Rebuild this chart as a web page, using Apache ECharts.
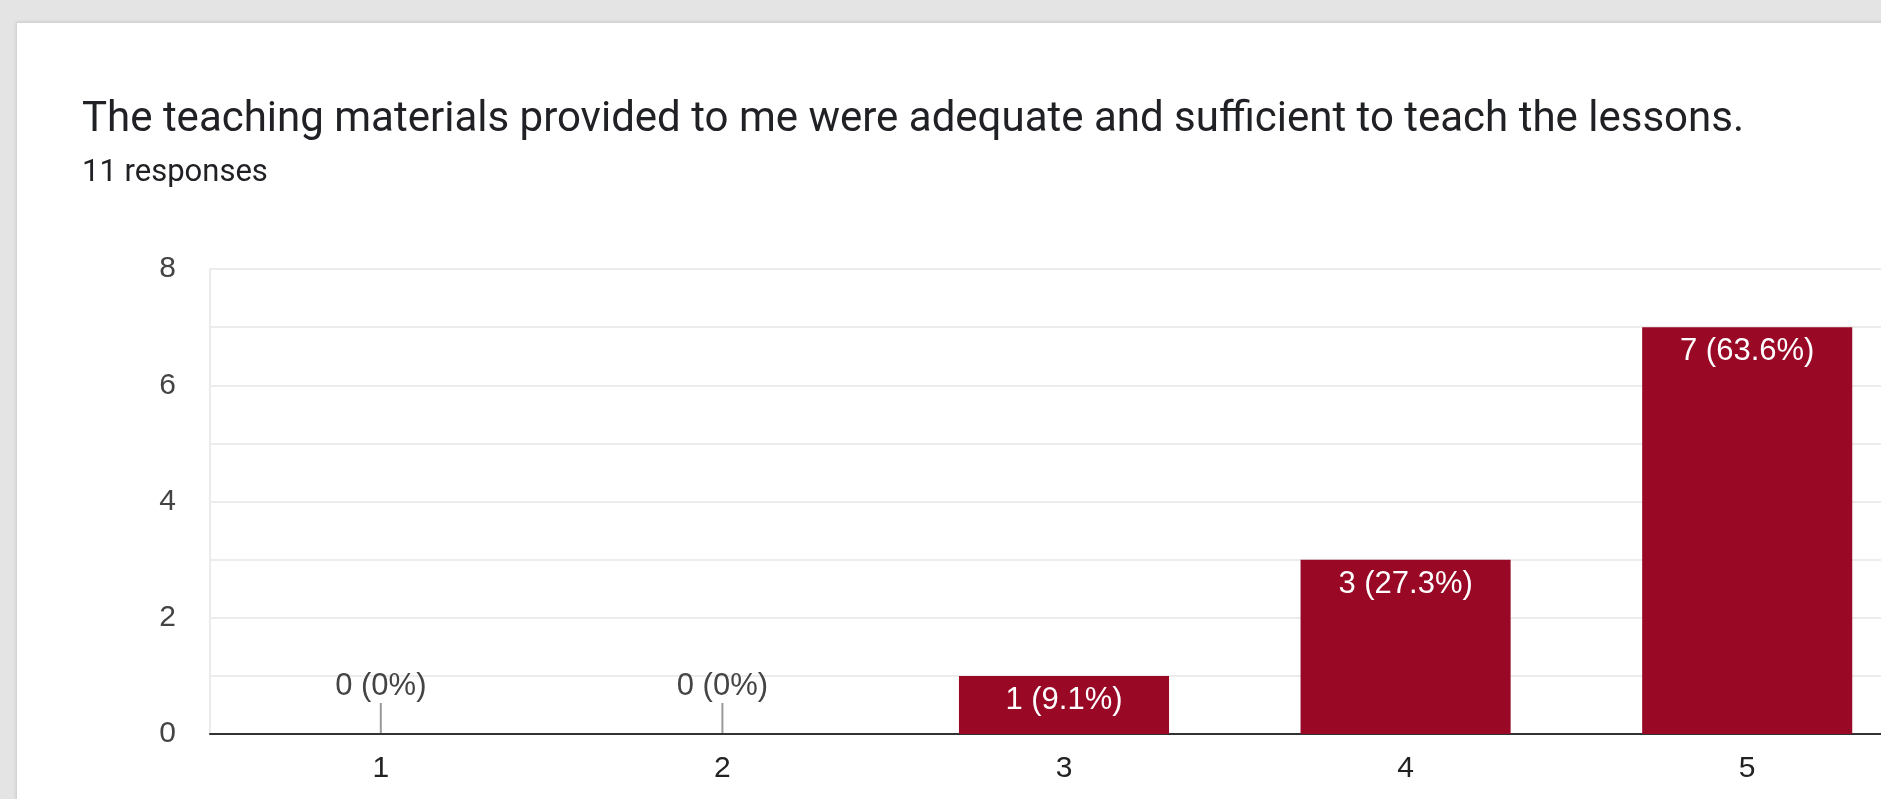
<!DOCTYPE html>
<html>
<head>
<meta charset="utf-8">
<script src="https://cdn.jsdelivr.net/npm/echarts@6/dist/echarts.min.js"></script>
<style>
html,body{margin:0;padding:0;width:1881px;height:799px;overflow:hidden;background:#e4e4e4;}
#card{position:absolute;left:17px;top:23px;width:1900px;height:800px;background:#fff;box-shadow:0 0 3px 1px rgba(0,0,0,0.12);}
#chart{position:absolute;left:0;top:0;width:1960px;height:799px;}
</style>
</head>
<body>
<div id="card"></div>
<div id="chart"></div>
<script>
const titleText = 'The teaching materials provided to me were adequate and sufficient to teach the lessons.';
const subtitleText = '11 responses';
const categories = ['1', '2', '3', '4', '5'];
const counts = [0, 0, 1, 3, 7];
const yTicks = [0, 2, 4, 6, 8];

const total = counts.reduce((a, b) => a + b, 0);
function fmt(v) {
  if (v === 0) return '0 (0%)';
  const p = Math.round(v / total * 1000) / 10;
  return v + ' (' + p + '%)';
}

const chart = echarts.init(document.getElementById('chart'));
chart.setOption({
  animation: false,
  title: {
    text: titleText,
    subtext: subtitleText,
    left: 77,
    top: 94,
    itemGap: 17,
    textStyle: { fontFamily: 'Roboto', fontWeight: 400, fontSize: 42, color: '#202124' },
    subtextStyle: { fontFamily: 'Roboto', fontSize: 31, color: '#202124' }
  },
  grid: { left: 210, right: 42, top: 269, bottom: 65 },
  xAxis: {
    type: 'category',
    data: categories,
    axisLine: { lineStyle: { color: '#333', width: 2 } },
    axisTick: { show: false },
    axisLabel: { fontFamily: 'Liberation Sans', fontSize: 30, color: '#222', margin: 20 }
  },
  yAxis: {
    type: 'value',
    min: 0, max: 8, interval: 1,
    axisLine: { show: true, lineStyle: { color: '#ebebeb', width: 2 } },
    axisTick: { show: false },
    splitLine: { lineStyle: { color: '#ececec', width: 2 } },
    axisLabel: {
      fontFamily: 'Liberation Sans', fontSize: 30, color: '#444', margin: 34,
      formatter: v => (yTicks.indexOf(v) >= 0 ? String(v) : '')
    }
  },
  series: [
    {
      type: 'bar',
      data: counts,
      barWidth: '61.5%',
      itemStyle: { color: '#990825' },
      label: {
        show: true,
        position: 'insideTop',
        distance: 9,
        fontFamily: 'Liberation Sans',
        fontSize: 31,
        color: '#fff',
        formatter: p => (p.value === 0 ? '' : fmt(p.value))
      }
    },
    {
      type: 'custom',
      data: counts.map((v, i) => [i, v]),
      renderItem: function (params, api) {
        const v = api.value(1);
        if (v !== 0) return null;
        const pt = api.coord([api.value(0), 0]);
        const stem = 31;
        return {
          type: 'group',
          children: [
            { type: 'line', shape: { x1: pt[0], y1: pt[1] - 1, x2: pt[0], y2: pt[1] - stem }, style: { stroke: '#999', lineWidth: 2 } },
            { type: 'text', style: { text: fmt(v), x: pt[0], y: pt[1] - stem - 1, textAlign: 'center', textVerticalAlign: 'bottom', fontFamily: 'Liberation Sans', fontSize: 31, fill: '#444' } }
          ]
        };
      },
      z: 5
    }
  ]
});
</script>
</body>
</html>
